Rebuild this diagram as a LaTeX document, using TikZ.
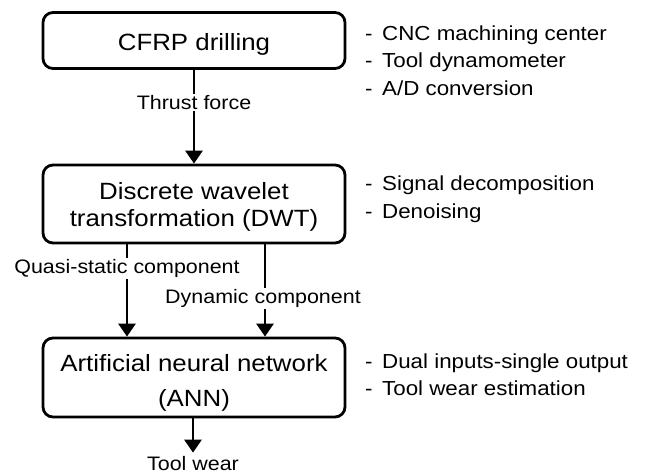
\documentclass[tikz,border=0pt]{standalone}
\usepackage{fontspec}
\setmainfont{Liberation Sans}[FakeStretch=1.1]
\usetikzlibrary{arrows.meta}
\begin{document}
\begin{tikzpicture}[x=1pt,y=-1pt,
  box/.style={draw=black,line width=2.8pt,rounded corners=10pt,minimum width=302pt,align=center,inner sep=0pt},
  boxfont/.style={font=\fontsize{23.5}{26.7}\selectfont},
  lab/.style={font=\fontsize{19.5}{24}\selectfont,fill=white,inner sep=1.5pt},
  note/.style={font=\fontsize{20.3}{27.5}\selectfont,align=left,anchor=west,inner sep=0pt},
  arr/.style={line width=2.8pt,-{Triangle[width=17pt,length=13pt]}}]
\useasboundingbox (0,0) rectangle (646,475);
\node[box,boxfont,minimum height=56pt] (b1) at (194,40.5) {\rule{0pt}{24pt}CFRP drilling};
\node[box,boxfont,minimum height=78pt] (b2) at (194,204) {\rule{0pt}{23.5pt}Discrete wavelet\\transformation (DWT)};
\node[box,font=\fontsize{23.5}{35}\selectfont,minimum height=79pt] (b3) at (194,377.5) {\rule{0pt}{28pt}Artificial neural network\\(ANN)};
\coordinate (qx) at (127,0);
\coordinate (dx) at (265,0);
\node[font=\fontsize{19.5}{24}\selectfont,inner sep=4pt] (tw) at (193,464) {Tool wear};
\draw[arr] (b1.south) -- node[lab,pos=0.35] (l1) {Thrust force} (b2.north);
\draw[arr] (b2.south -| qx) -- node[lab,pos=0.26] (l2) {Quasi-static component} (b3.north -| qx);
\draw[arr] (b2.south -| dx) -- node[lab,pos=0.59,xshift=-2pt] (l3) {Dynamic component} (b3.north -| dx);
\draw[arr] (b3.south -| tw.north) -- (tw.north);
\node[note] (n1) at (365,60.5) {\makebox[17pt][l]{-}CNC machining center\\\makebox[17pt][l]{-}Tool dynamometer\\\makebox[17pt][l]{-}A/D conversion};
\node[note] (n2) at (365,199) {\makebox[17pt][l]{-}Signal decomposition\\\makebox[17pt][l]{-}Denoising};
\node[note] (n3) at (365,374.5) {\makebox[17pt][l]{-}Dual inputs-single output\\\makebox[17pt][l]{-}Tool wear estimation};
\end{tikzpicture}
\end{document}
